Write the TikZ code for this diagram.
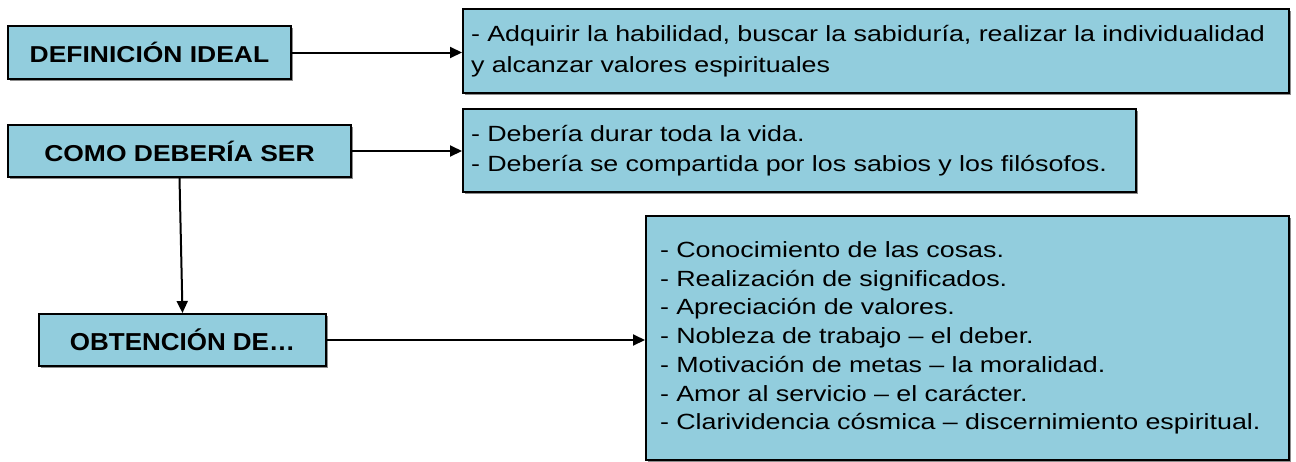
\documentclass[tikz,border=0pt]{standalone}
\usepackage{fontspec}
\setmainfont{Liberation Sans}
\newfontfamily\bodyf[FakeStretch=1.22]{Liberation Sans}
\newfontfamily\headf[FakeStretch=1.15]{Liberation Sans}
\newfontfamily\obtf[FakeStretch=1.06]{Liberation Sans}
\usetikzlibrary{arrows.meta,shadows}
\definecolor{boxblue}{RGB}{146,205,221}
\tikzset{
  box/.style={draw=black, line width=2pt, fill=boxblue, anchor=north west, inner sep=0pt,
    drop shadow={shadow xshift=1.5pt, shadow yshift=-1.5pt, fill=black!45, opacity=1}},
  headbox/.style={box, font=\headf\bfseries\fontsize{23}{27}\selectfont, align=center},
  textbox/.style={box, font=\bodyf\fontsize{22}{30.5}\selectfont, align=left},
  conn/.style={line width=2pt, -{Triangle[length=12pt,width=11pt]}}
}
\begin{document}
\begin{tikzpicture}[x=1pt,y=1pt]
\useasboundingbox (0,0) rectangle (1296,-461);
\node[headbox, minimum width=283, minimum height=53] (def) at (7,-25) {DEFINICIÓN IDEAL};
\node[headbox, minimum width=343, minimum height=52] (como) at (7,-124) {COMO DEBERÍA SER};
\node[headbox, font=\obtf\bfseries\fontsize{24.5}{28}\selectfont, minimum width=287, minimum height=52] (obt) at (38,-313) {OBTENCIÓN DE…};
\node[textbox, minimum width=826, minimum height=84, text width=810] (r1) at (462,-8)
  {\mbox{- Adquirir la habilidad, buscar la sabiduría, realizar la individualidad}\\\mbox{y alcanzar valores espirituales}};
\node[textbox, minimum width=673, minimum height=83, text width=657] (r2) at (462,-108)
  {\mbox{- Debería durar toda la vida.}\\\mbox{- Debería se compartida por los sabios y los filósofos.}};
\node[textbox, font=\bodyf\fontsize{22}{28.7}\selectfont, minimum width=643, minimum height=244, text width=615] (r3) at (645,-215)
  {\mbox{- Conocimiento de las cosas.}\\
   \mbox{- Realización de significados.}\\
   \mbox{- Apreciación de valores.}\\
   \mbox{- Nobleza de trabajo – el deber.}\\
   \mbox{- Motivación de metas – la moralidad.}\\
   \mbox{- Amor al servicio – el carácter.}\\
   \mbox{- Clarividencia cósmica – discernimiento espiritual.}};
\draw[conn] (def.east) -- (def.east -| r1.west);
\draw[conn] (como.east) -- (como.east -| r2.west);
\draw[conn] (obt.east) -- (obt.east -| r3.west);
\draw[conn] (como.south) -- (obt.north);
\end{tikzpicture}
\end{document}
